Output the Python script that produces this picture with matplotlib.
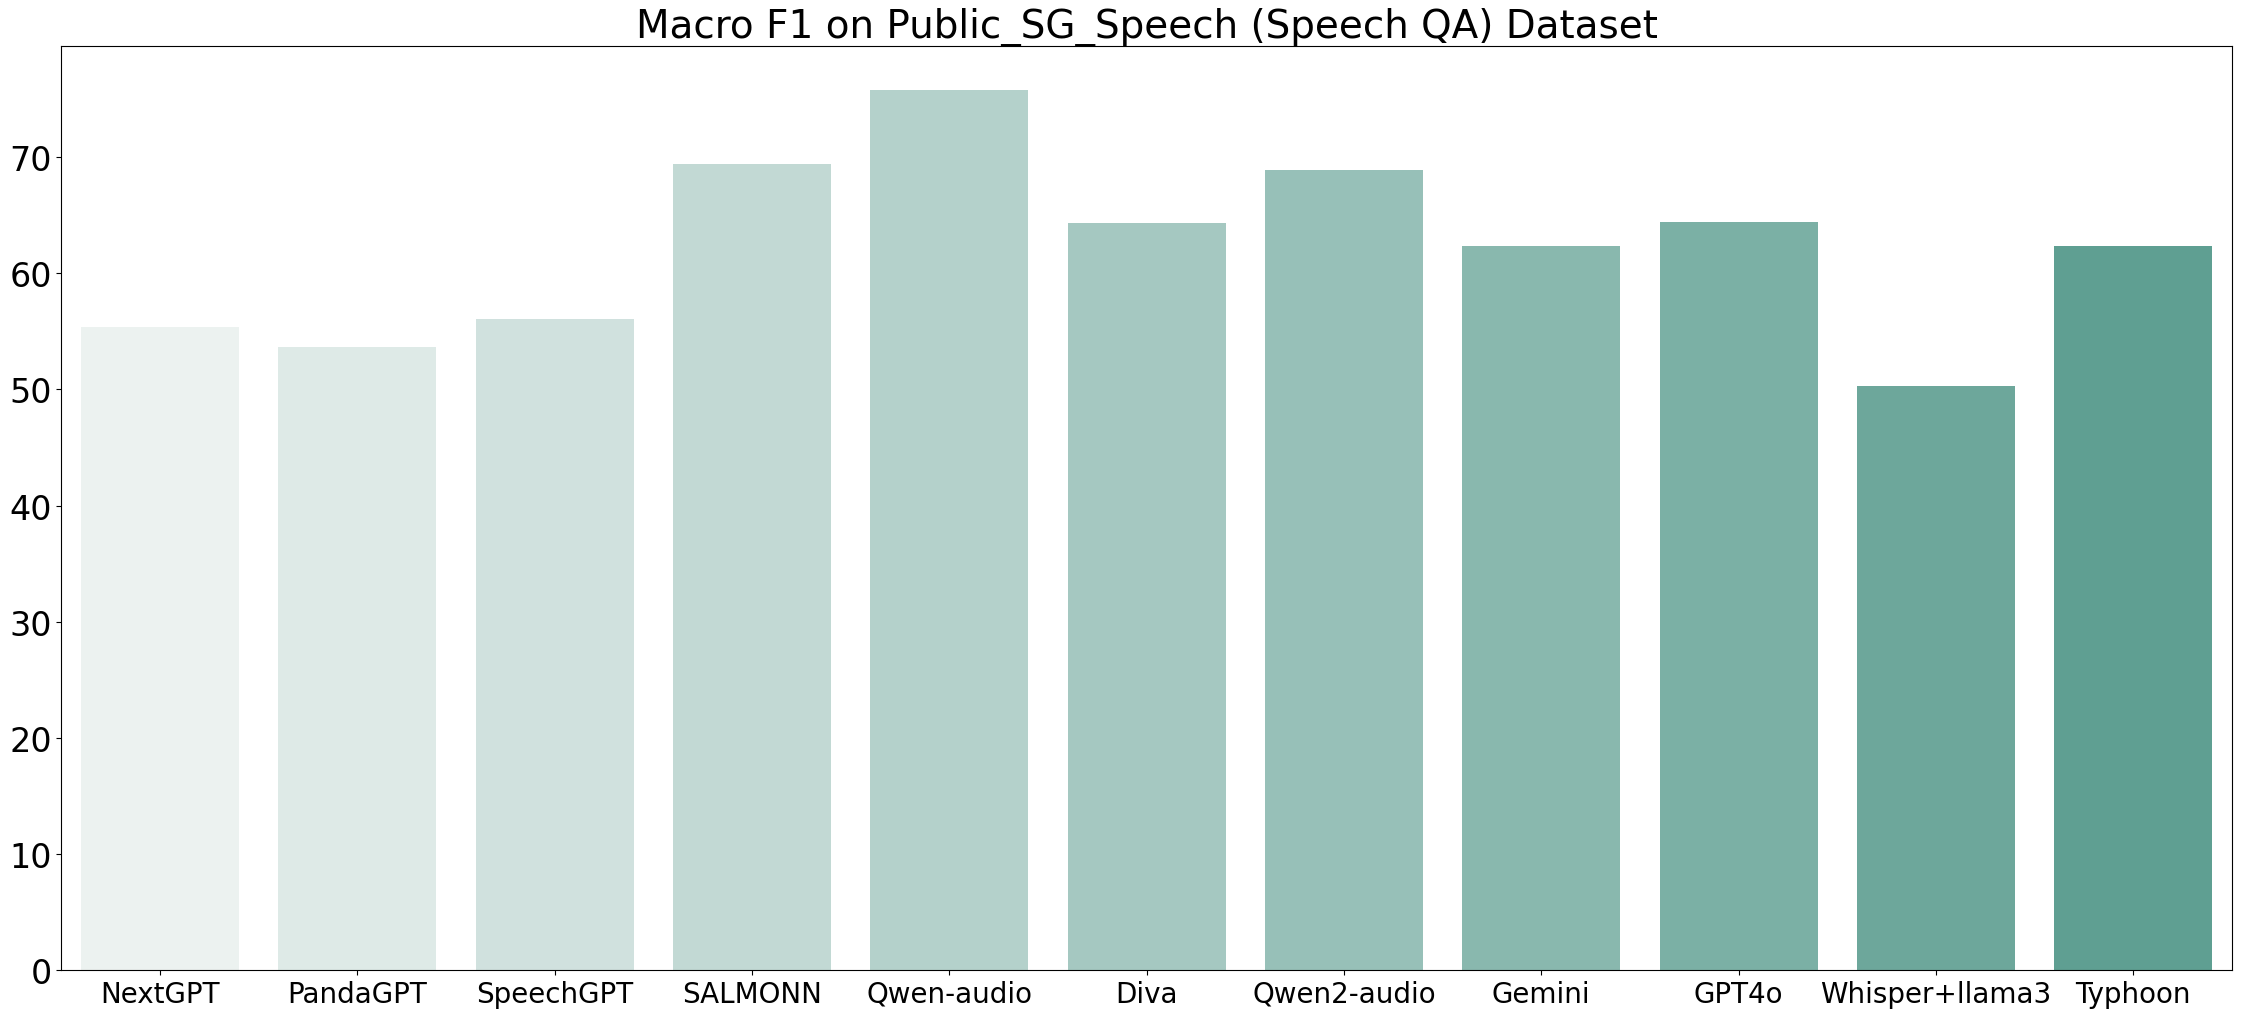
import numpy as np
import matplotlib
matplotlib.use('Agg')
import matplotlib.pyplot as plt
import seaborn as sns

# Macro F1 scores
models = ['NextGPT', 'PandaGPT', 'SpeechGPT', 'SALMONN', 'Qwen-audio', 'Diva',
          'Qwen2-audio', 'Gemini', 'GPT4o', 'Whisper+llama3', 'Typhoon']
scores = [55.4, 53.7, 56.1, 69.4, 75.8, 64.3, 68.9, 62.4, 64.4, 50.3, 62.4]

palette = sns.light_palette('#5f9f92', len(models))

fig = plt.figure(figsize=(22.42, 10.2), dpi=100)
ax = fig.add_axes([0.0274, 0.048, 0.9681, 0.906])

sns.barplot(x=models, y=scores, hue=models, palette=palette, legend=False,
            saturation=1, ax=ax)

ax.set_title('Macro F1 on Public_SG_Speech (Speech QA) Dataset', fontsize=28)
ax.tick_params(axis='y', labelsize=24)
ax.tick_params(axis='x', labelsize=20)
ax.set_xlabel('')
ax.set_ylabel('')

fig.savefig('out.png', dpi=100)
